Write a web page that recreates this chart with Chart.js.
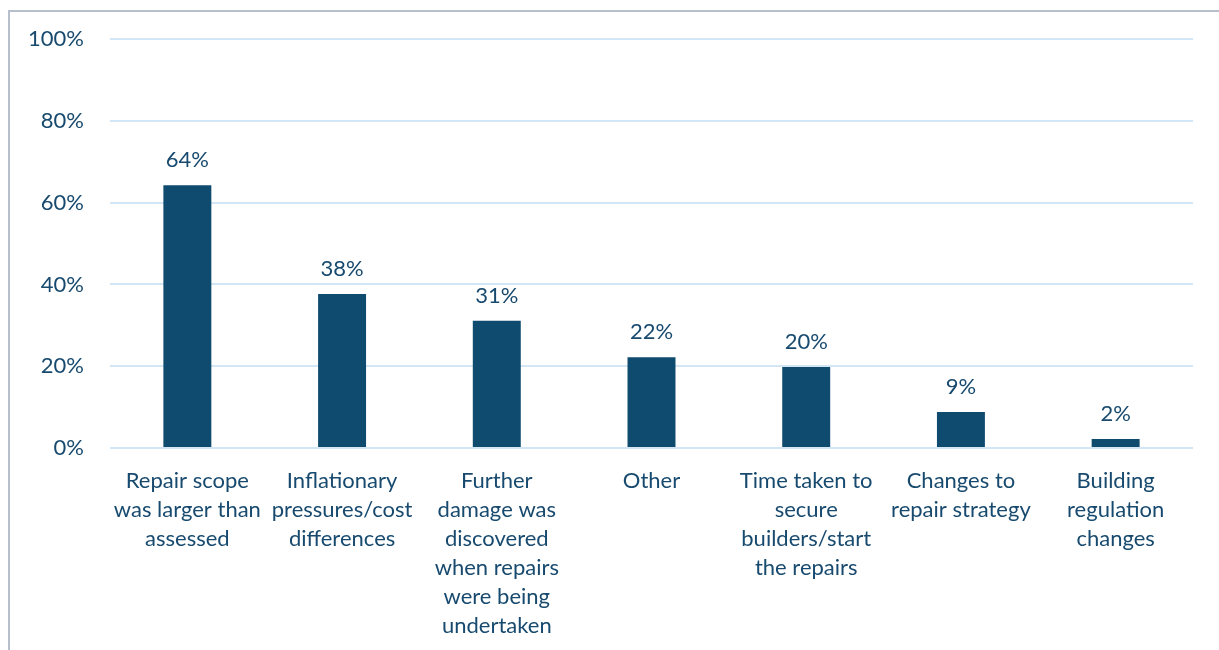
<!DOCTYPE html>
<html>
<head>
<meta charset="utf-8">
<script src="https://cdn.jsdelivr.net/npm/chart.js@4/dist/chart.umd.min.js"></script>
<style>
  html, body { margin: 0; padding: 0; background: #fff; }
  #wrap { position: absolute; left: 0; top: 0; width: 1219px; height: 650px; }
  #frame { position: absolute; left: 8px; top: 10px; right: 0; bottom: 0;
           border-left: 2px solid #b8bfcc; border-top: 2px solid #b8bfcc; }
  canvas { position: absolute; left: 0; top: 0; }
</style>
</head>
<body>
<div id="wrap">
  <div id="frame"></div>
  <canvas id="myChart" width="1219" height="650"></canvas>
</div>
<script>
var categories = [
    ['Repair scope', 'was larger than', 'assessed'],
    ['Inflationary', 'pressures/cost', 'differences'],
    ['Further', 'damage was', 'discovered', 'when repairs', 'were being', 'undertaken'],
    ['Other'],
    ['Time taken to', 'secure', 'builders/start', 'the repairs'],
    ['Changes to', 'repair strategy'],
    ['Building', 'regulation', 'changes']
];
var shares = [64.3, 37.7, 31.1, 22.2, 19.8, 8.8, 2.2];
var yTicks = [0, 20, 40, 60, 80, 100];

var textColor = '#174a6e';
var fontFamily = 'Lato, "Open Sans", sans-serif';

// value labels above bars
var barLabels = {
    id: 'barLabels',
    afterDatasetsDraw: function (chart) {
        var ctx = chart.ctx;
        var meta = chart.getDatasetMeta(0);
        ctx.save();
        ctx.fillStyle = textColor;
        ctx.font = '22px ' + fontFamily;
        ctx.textAlign = 'center';
        ctx.textBaseline = 'alphabetic';
        meta.data.forEach(function (bar, i) {
            ctx.fillText(Math.round(shares[i]) + '%', bar.x, bar.y - 18);
        });
        ctx.restore();
    }
};

var cvas = document.getElementById('myChart').getContext('2d');
var myChart = new Chart(cvas, {
    type: 'bar',
    data: {
        labels: categories,
        datasets: [{
            data: shares,
            backgroundColor: '#0f4b6e',
            borderWidth: 0,
            categoryPercentage: 1,
            barPercentage: 0.31
        }]
    },
    options: {
        responsive: false,
        animation: false,
        layout: { padding: { top: 30, left: 0, right: 26, bottom: 10 } },
        plugins: {
            legend: { display: false },
            tooltip: { enabled: false }
        },
        scales: {
            x: {
                grid: { display: false, drawTicks: false },
                border: { display: false },
                afterFit: function (axis) { axis.height = 192; },
                ticks: {
                    color: textColor,
                    font: { family: fontFamily, size: 22, lineHeight: 1.32 },
                    padding: 18,
                    maxRotation: 0,
                    autoSkip: false
                }
            },
            y: {
                min: 0,
                max: 100,
                afterBuildTicks: function (axis) {
                    axis.ticks = yTicks.map(function (v) { return { value: v }; });
                },
                afterFit: function (axis) { axis.width = 110; },
                grid: { color: '#d3e6f6', lineWidth: 2, drawTicks: false },
                border: { display: false },
                ticks: {
                    color: textColor,
                    font: { family: fontFamily, size: 22 },
                    padding: 26,
                    callback: function (v) { return v + '%'; }
                }
            }
        }
    },
    plugins: [barLabels]
});
</script>
</body>
</html>
